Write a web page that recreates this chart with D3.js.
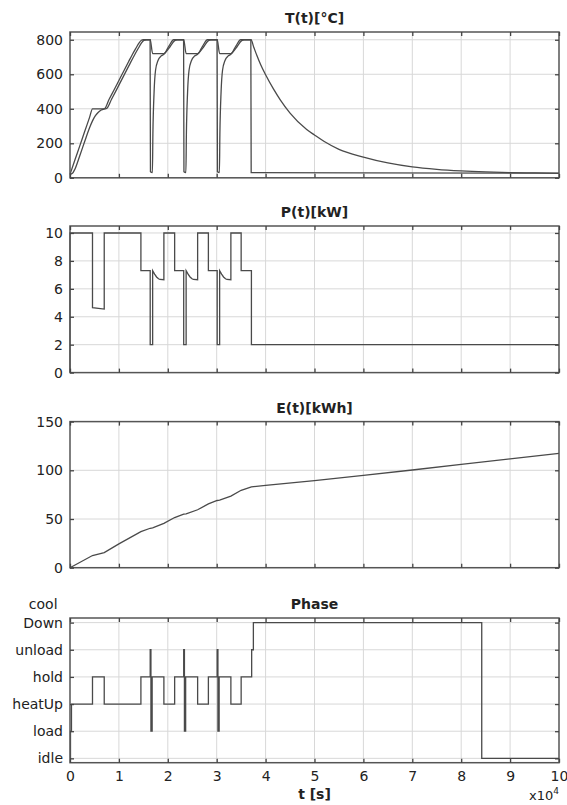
<!DOCTYPE html>
<html>
<head>
<meta charset="utf-8">
<script src="https://cdn.jsdelivr.net/npm/d3@7"></script>
<style>
body { margin: 0; background: #fff; }
svg text { font-family: "DejaVu Sans", sans-serif; fill: #222; }
</style>
</head>
<body>
<div class="viz"></div>
<script>
const width = 567;
const height = 805;

// time axis, units of 1e4 s
const timeTicks = [0, 1, 2, 3, 4, 5, 6, 7, 8, 9, 10];

// T(t) furnace
const furnaceTime = [0, 0.1, 0.2, 0.3, 0.4, 0.46, 0.70, 0.8, 0.9, 1.0, 1.1, 1.2, 1.27, 1.35, 1.41, 1.46, 1.50,
    1.64, 1.69, 1.92, 2.02, 2.12, 2.325, 2.375, 2.61, 2.71, 2.81, 3.01, 3.06, 3.29, 3.39, 3.49,
    3.70, 3.76, 3.82, 3.90, 4.0, 4.16, 4.3, 4.5, 4.84, 5.0, 5.2, 5.5, 6.0, 6.5, 7.0, 7.5, 8.0, 8.5, 9.0, 9.5, 10];
const furnaceTemp = [20, 103, 185, 268, 350, 400, 400, 455, 509, 564, 619, 674, 712, 752, 781, 797, 800,
    800, 720, 720, 762, 800, 800, 720, 720, 762, 800, 800, 720, 720, 762, 800,
    800, 755, 710, 655, 597, 515, 452, 375, 280, 248, 210, 165, 120, 86, 63, 49, 40, 34, 30, 28, 26];

// T(t) workpiece
const pieceTime = [0, 0.05, 0.1, 0.2, 0.3, 0.4, 0.46, 0.52, 0.58, 0.64, 0.70, 0.75, 0.85, 1.0, 1.2, 1.32,
    1.40, 1.46, 1.51, 1.56, 1.638, 1.645, 1.685, 1.695, 1.72, 1.75, 1.80, 1.86, 1.92, 2.02, 2.14, 2.19,
    2.323, 2.330, 2.370, 2.380, 2.405, 2.435, 2.485, 2.545, 2.61, 2.71, 2.83, 2.88,
    3.008, 3.015, 3.055, 3.065, 3.09, 3.12, 3.17, 3.23, 3.29, 3.39, 3.51, 3.56, 3.698, 3.705, 10];
const pieceTemp = [20, 26, 50, 128, 210, 290, 330, 360, 380, 393, 399, 402, 455, 537, 647, 712,
    752, 781, 797, 800, 800, 35, 30, 250, 500, 625, 680, 705, 716, 750, 795, 800,
    800, 35, 30, 250, 500, 625, 680, 705, 716, 750, 795, 800,
    800, 35, 30, 250, 500, 625, 680, 705, 716, 750, 795, 800, 800, 30, 27];

// P(t)
const powerTime = [0, 0, 0.46, 0.46, 0.70, 0.70, 1.45, 1.45, 1.64, 1.64, 1.69, 1.69, 1.73, 1.77, 1.81, 1.84,
    1.92, 1.92, 2.14, 2.14, 2.325, 2.325, 2.375, 2.375, 2.415, 2.455, 2.495, 2.525, 2.61, 2.61,
    2.83, 2.83, 3.01, 3.01, 3.06, 3.06, 3.10, 3.14, 3.18, 3.21, 3.29, 3.29, 3.50, 3.50, 3.71, 3.71, 10];
const powerVal = [0, 10, 10, 4.65, 4.55, 10, 10, 7.3, 7.3, 2, 2, 7.3, 7.05, 6.85, 6.72, 6.67,
    6.65, 10, 10, 7.3, 7.3, 2, 2, 7.3, 7.05, 6.85, 6.72, 6.67, 6.65, 10,
    10, 7.3, 7.3, 2, 2, 7.3, 7.05, 6.85, 6.72, 6.67, 6.65, 10, 10, 7.3, 7.3, 2, 2];

// E(t)
const energyTime = [0, 0.46, 0.70, 1.0, 1.45, 1.64, 1.69, 1.92, 2.14, 2.325, 2.375, 2.61, 2.83, 3.01, 3.06,
    3.29, 3.50, 3.71, 4.0, 5.0, 6.0, 7.0, 8.0, 9.0, 10];
const energyVal = [0, 12.5, 15.5, 24.5, 37, 40.5, 41, 45.5, 51.5, 55, 55.3, 59.5, 65.5, 69, 69.3,
    73.5, 79.5, 83, 84.6, 89.3, 94.8, 100.3, 106, 111.7, 117.4];

// Phase (0 idle .. 5 coolDown)
const phaseNames = ["idle", "load", "heatUp", "hold", "unload", "coolDown"];
const phaseTime = [0, 0.01, 0.03, 0.46, 0.70, 1.45, 1.64, 1.655, 1.68, 1.92, 2.14, 2.325, 2.34, 2.365,
    2.61, 2.83, 3.01, 3.025, 3.05, 3.29, 3.50, 3.715, 3.75, 8.42, 10];
const phaseVal = [0, 1, 2, 3, 2, 3, 4, 1, 3, 2, 3, 4, 1, 3, 2, 3, 4, 1, 3, 2, 3, 4, 5, 0, 0];

const tempTicks = [0, 200, 400, 600, 800];
const powerTicks = [0, 2, 4, 6, 8, 10];
const energyTicks = [0, 50, 100, 150];
const phaseTicks = [0, 1, 2, 3, 4, 5];

const svg = d3.select(".viz")
    .append("svg")
    .attr("width", width)
    .attr("height", height);

const x = d3.scaleLinear().domain([0, 10]).range([70, 559]);

const lineColor = "#4a4a4a";

const panels = [
    { title: "T(t)[°C]", top: 32, bottom: 177.8, domain: [0, 845], ticks: tempTicks,
      series: [
        { t: furnaceTime, v: furnaceTemp, curve: d3.curveMonotoneX },
        { t: pieceTime, v: pieceTemp, curve: d3.curveMonotoneX }
      ] },
    { title: "P(t)[kW]", top: 226, bottom: 372.6, domain: [0, 10.5], ticks: powerTicks,
      series: [{ t: powerTime, v: powerVal, curve: d3.curveLinear }] },
    { title: "E(t)[kWh]", top: 421.6, bottom: 567.7, domain: [0, 150], ticks: energyTicks,
      series: [{ t: energyTime, v: energyVal, curve: d3.curveLinear }] },
    { title: "Phase", top: 618, bottom: 762.7, domain: [-0.16, 5.17], ticks: phaseTicks,
      series: [{ t: phaseTime, v: phaseVal, curve: d3.curveStepAfter }],
      format: d => phaseNames[d], xLabels: true }
];

panels.forEach(p => {
    const y = d3.scaleLinear().domain(p.domain).range([p.bottom, p.top]);
    const g = svg.append("g");

    // grid
    g.selectAll(".vgrid")
        .data(timeTicks.slice(1, -1))
        .enter()
        .append("line")
        .attr("x1", d => x(d)).attr("x2", d => x(d))
        .attr("y1", p.top).attr("y2", p.bottom)
        .style("stroke", "#d8d8d8")
        .style("stroke-width", 1);

    g.selectAll(".hgrid")
        .data(p.ticks)
        .enter()
        .append("line")
        .attr("x1", x(0)).attr("x2", x(10))
        .attr("y1", d => y(d)).attr("y2", d => y(d))
        .style("stroke", "#d8d8d8")
        .style("stroke-width", 1);

    // data
    p.series.forEach(s => {
        const pts = d3.zip(s.t, s.v);
        g.append("path")
            .datum(pts)
            .attr("d", d3.line().x(d => x(d[0])).y(d => y(d[1])).curve(s.curve))
            .style("fill", "none")
            .style("stroke", lineColor)
            .style("stroke-width", 1.3);
    });

    // box
    g.append("rect")
        .attr("x", x(0)).attr("y", p.top)
        .attr("width", x(10) - x(0)).attr("height", p.bottom - p.top)
        .style("fill", "none")
        .style("stroke", "#555")
        .style("stroke-width", 1.5);

    // inward ticks on all four sides
    const left = g.append("g")
        .attr("transform", `translate(${x(0)},0)`)
        .call(d3.axisLeft(y).tickValues(p.ticks).tickSizeInner(-4).tickSizeOuter(0).tickPadding(7)
            .tickFormat(p.format || d3.format("d")));
    const right = g.append("g")
        .attr("transform", `translate(${x(10)},0)`)
        .call(d3.axisRight(y).tickValues(p.ticks).tickSizeInner(-4).tickSizeOuter(0).tickFormat(""));
    const top = g.append("g")
        .attr("transform", `translate(0,${p.top})`)
        .call(d3.axisTop(x).tickValues(timeTicks).tickSizeInner(-4).tickSizeOuter(0).tickFormat(""));
    const bottom = g.append("g")
        .attr("transform", `translate(0,${p.bottom})`)
        .call(d3.axisBottom(x).tickValues(timeTicks).tickSizeInner(-4).tickSizeOuter(0).tickPadding(8)
            .tickFormat(p.xLabels ? d3.format("d") : ""));

    [left, right, top, bottom].forEach(a => {
        a.select(".domain").remove();
        a.selectAll(".tick line").style("stroke", "#444").style("stroke-width", 1.3);
        a.selectAll("text").style("font-size", "14px").style("fill", "#222");
    });

    // two-line label for coolDown
    if (p.format) {
        left.selectAll(".tick")
            .filter(d => d === 5)
            .each(function () {
                const t = d3.select(this).select("text");
                t.text("Down");
                const w = t.node().getComputedTextLength();
                d3.select(this).append("text")
                    .attr("x", -7 - w / 2)
                    .attr("dy", "0.32em")
                    .attr("y", -18.5)
                    .attr("text-anchor", "middle")
                    .style("font-size", "14px")
                    .style("fill", "#222")
                    .text("cool");
            });
    }

    // title
    svg.append("text")
        .attr("x", (x(0) + x(10)) / 2)
        .attr("y", p.top - 9)
        .attr("text-anchor", "middle")
        .style("font-size", "14px")
        .style("font-weight", "bold")
        .text(p.title);
});

// x axis label and exponent
svg.append("text")
    .attr("x", (x(0) + x(10)) / 2)
    .attr("y", 799)
    .attr("text-anchor", "middle")
    .style("font-size", "14px")
    .style("font-weight", "bold")
    .text("t [s]");

const expo = svg.append("text")
    .attr("x", x(10))
    .attr("y", 800)
    .attr("text-anchor", "end")
    .style("font-size", "13px");
expo.append("tspan").text("x10");
expo.append("tspan").attr("dy", -6).style("font-size", "9px").text("4");
</script>
</body>
</html>
